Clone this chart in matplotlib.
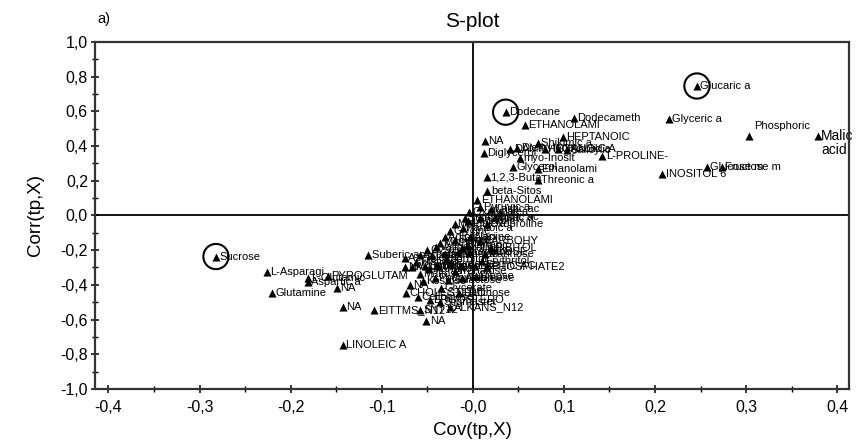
import matplotlib
matplotlib.use("Agg")
import matplotlib.pyplot as plt
from matplotlib.ticker import MultipleLocator

plt.rcParams["font.family"] = ["Liberation Sans", "DejaVu Sans"]

# variable names (truncated to 10 chars, as in the SIMCA plot)
names = [
    "Glucaric a", "Glyceric a", "Phosphoric", "Malic acid", "Dodecane",
    "Dodecameth", "ETHANOLAMI", "HEPTANOIC", "NA", "Diglycerol",
    "DAMP", "Diethylene", "Shikimic a", "HEXANOIC A", "Glycolic a",
    "Salicylic", "L-PROLINE-", "myo-Inosit", "Glycerol", "Ethanolami",
    "1,2,3-Buta", "Threonic a", "INOSITOL 6", "Glucose m", "Fructose m",
    "beta-Sitos", "ETHANOLAMI", "Pyruvic a", "Lactic ac", "Oxalic ac",
    "Urea", "Succinic a", "Fumaric a", "Citric ac", "Malonic a",
    "Pantoic a", "Adipic aci", "Serine", "Alanine", "CARBOHY",
    "Valine", "Proline", "Aconitic a", "Leucine", "Isoleucine",
    "Threonine", "GLUCOSE", "Mannose", "M000000", "Ornithine",
    "Lysine", "Tyrosine", "Xylose", "LACTIC AC", "PHOSPHATE2",
    "Maltose", "Phenylalan", "Galactose", "Arabinose", "Ribose",
    "NA", "CHOLESTERO", "ERGOSTERO", "Stigmaster", "ALKANS_N12",
    "SNT12", "EITTMS_N12", "NA", "NA", "LINOLEIC A",
    "Suberic ac", "Azelaic a", "NA", "Sucrose", "L-Asparagi",
    "PYROGLUTAM", "L-Glutamic", "Aspartic a", "NA", "Glutamine",
    "Glutamic", "Oxoproline", "Glycine", "Methionin", "Cysteine",
    "Tartaric", "RIBITOL", "Histidine", "Sorbitol", "Mannitol",
    "Trehalose", "Erythritol", "Glycerate", "Kestose", "Raffinose",
    "Cellobiose",
]

# Cov(tp,X)
cov = [
    0.246, 0.215, 0.303, 0.379, 0.036,
    0.111, 0.057, 0.099, 0.013, 0.012,
    0.041, 0.049, 0.071, 0.079, 0.094,
    0.103, 0.142, 0.052, 0.044, 0.071,
    0.015, 0.071, 0.208, 0.257, 0.273,
    0.016, 0.005, 0.008, 0.020, -0.004,
    0.030, -0.009, 0.008, 0.024, -0.020,
    -0.011, -0.031, -0.020, -0.003, 0.008,
    -0.040, -0.012, -0.058, -0.045, -0.031,
    -0.016, -0.003, 0.013, -0.067, -0.053,
    -0.038, -0.025, -0.012, 0.002, 0.016,
    -0.058, -0.042, -0.027, -0.012, 0.003,
    -0.069, -0.073, -0.047, -0.036, -0.025,
    -0.058, -0.108, -0.051, -0.143, -0.143,
    -0.115, -0.075, -0.075, -0.282, -0.226,
    -0.159, -0.181, -0.181, -0.149, -0.221,
    -0.005, 0.015, -0.025, -0.036, -0.050,
    -0.005, 0.020, -0.062, -0.030, -0.048,
    -0.020, 0.010, -0.035, -0.055, -0.015,
    -0.060,
]

# Corr(tp,X)
corr = [
    0.746, 0.555, 0.460, 0.457, 0.595,
    0.560, 0.520, 0.450, 0.430, 0.360,
    0.380, 0.390, 0.420, 0.385, 0.380,
    0.375, 0.340, 0.330, 0.280, 0.265,
    0.220, 0.205, 0.237, 0.277, 0.277,
    0.140, 0.090, 0.046, 0.035, 0.020,
    0.020, -0.015, -0.015, -0.012, -0.050,
    -0.070, -0.127, -0.140, -0.127, -0.150,
    -0.180, -0.185, -0.230, -0.230, -0.220,
    -0.210, -0.210, -0.225, -0.300, -0.290,
    -0.290, -0.280, -0.290, -0.290, -0.300,
    -0.340, -0.360, -0.370, -0.360, -0.350,
    -0.400, -0.445, -0.485, -0.500, -0.530,
    -0.545, -0.545, -0.610, -0.530, -0.745,
    -0.230, -0.245, -0.300, -0.237, -0.325,
    -0.350, -0.360, -0.385, -0.420, -0.445,
    -0.035, -0.050, -0.090, -0.160, -0.200,
    -0.170, -0.190, -0.270, -0.250, -0.310,
    -0.320, -0.260, -0.420, -0.380, -0.450,
    -0.470,
]

circled = ["Glucaric a", "Dodecane", "Sucrose"]

xticks = [-0.4, -0.3, -0.2, -0.1, 0.0, 0.1, 0.2, 0.3, 0.4]
xtick_labels = ["-0,4", "-0,3", "-0,2", "-0,1", "-0,0", "0,1", "0,2", "0,3", "0,4"]
yticks = [-1.0, -0.8, -0.6, -0.4, -0.2, 0.0, 0.2, 0.4, 0.6, 0.8, 1.0]
ytick_labels = ["-1,0", "-0,8", "-0,6", "-0,4", "-0,2", "0,0", "0,2", "0,4", "0,6", "0,8", "1,0"]

fig = plt.figure(figsize=(8.62, 4.46), dpi=100)
ax = fig.add_axes([0.110, 0.128, 0.875, 0.778])

ax.axhline(0, color="black", lw=1.3, zorder=1)
ax.axvline(0, color="black", lw=1.3, zorder=1)

ax.scatter(cov, corr, marker="^", s=34, color="black", lw=0, zorder=3)

for name, x, y in zip(names, cov, corr):
    if name == "Phosphoric":
        ax.annotate(name, (x, y), xytext=(4, 7), textcoords="offset points",
                    fontsize=8, va="center", ha="left", zorder=4)
    elif name == "Malic acid":
        ax.annotate("Malic\nacid", (x, y), xytext=(2, 5), textcoords="offset points",
                    fontsize=10, va="top", ha="left", linespacing=1.0,
                    annotation_clip=False, zorder=0)
    else:
        ax.annotate(name, (x, y), xytext=(2.5, 0), textcoords="offset points",
                    fontsize=8, va="center", ha="left", zorder=4)

for name in circled:
    i = names.index(name)
    ax.scatter([cov[i]], [corr[i]], marker="o", s=330, facecolors="none",
               edgecolors="black", lw=1.5, zorder=5)

ax.set_xlim(-0.415, 0.413)
ax.set_ylim(-1.0, 1.0)
ax.set_xticks(xticks)
ax.set_xticklabels(xtick_labels)
ax.set_yticks(yticks)
ax.set_yticklabels(ytick_labels)
ax.xaxis.set_minor_locator(MultipleLocator(0.05))
ax.yaxis.set_minor_locator(MultipleLocator(0.1))
ax.tick_params(which="major", direction="inout", length=6, width=1.1, labelsize=11.5)
ax.tick_params(axis="x", which="major", pad=5)
ax.tick_params(axis="y", which="major", pad=2)
ax.tick_params(which="minor", direction="inout", length=5, width=1.0)
ax.tick_params(top=False, right=False)

for sp in ax.spines.values():
    sp.set_linewidth(1.6)
    sp.set_color("#333333")
    sp.set_zorder(6)

ax.set_xlabel("Cov(tp,X)", fontsize=13.5, labelpad=5)
ax.set_ylabel("Corr(tp,X)", fontsize=13.5, labelpad=12)
ax.set_title("S-plot", fontsize=15, pad=11)
fig.text(0.113, 0.958, "a)", fontsize=10.5, ha="left", va="center")

fig.savefig("out.png", dpi=100, facecolor="white")
